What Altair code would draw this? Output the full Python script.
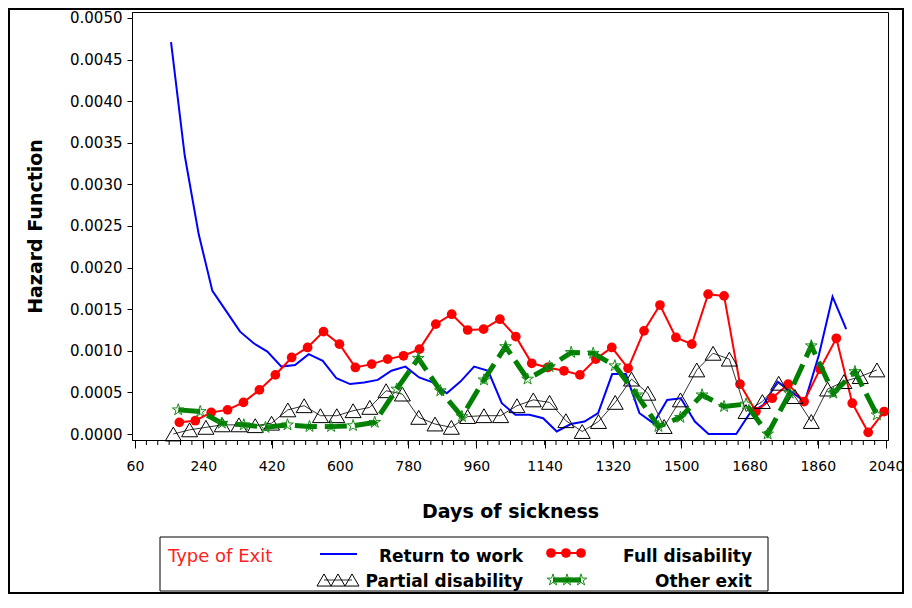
import altair as alt
import pandas as pd

# ---------------- data ----------------
rtw_days = [155, 191, 228, 264, 300, 337, 373, 409, 446, 482, 518, 555, 591, 627, 664, 700, 736, 773, 809, 845,
            882, 918, 954, 991, 1027, 1063, 1100, 1136, 1172, 1209, 1245, 1281, 1318, 1354, 1390, 1427, 1463, 1499,
            1536, 1572, 1608, 1645, 1681, 1717, 1754, 1790, 1826, 1863, 1899, 1935]
rtw_haz = [0.00471, 0.00335, 0.00240, 0.00172, 0.00148, 0.00123, 0.00109, 0.00099, 0.00081, 0.00083,
           0.00096, 0.00088, 0.00067, 0.00060, 0.00062, 0.00065, 0.00076, 0.00081, 0.00068, 0.00062,
           0.00049, 0.00063, 0.00081, 0.00076, 0.00037, 0.00023, 0.00023, 0.00019, 0.00003, 0.00012,
           0.00015, 0.00025, 0.00072, 0.00072, 0.00025, 0.00013, 0.00041, 0.00043, 0.00015, 0.0,
           0.0, 0.0, 0.00025, 0.00035, 0.00063, 0.00051, 0.00039, 0.00095, 0.00165, 0.00126]

full_days = [177, 219, 261, 304, 346, 388, 430, 473, 515, 557, 599, 641, 684, 726, 768, 810, 853, 895, 937, 979,
             1022, 1064, 1106, 1148, 1191, 1233, 1275, 1317, 1360, 1402, 1444, 1486, 1528, 1571, 1613, 1655, 1697,
             1740, 1782, 1824, 1866, 1909, 1951, 1993, 2035]
full_haz = [0.00014, 0.00016, 0.00026, 0.00029, 0.00038, 0.00053, 0.00071, 0.00092, 0.00104, 0.00123,
            0.00108, 0.00080, 0.00084, 0.00090, 0.00094, 0.00102, 0.00132, 0.00144, 0.00125, 0.00126,
            0.00138, 0.00117, 0.00085, 0.00080, 0.00076, 0.00071, 0.00090, 0.00104, 0.00079, 0.00124,
            0.00155, 0.00116, 0.00108, 0.00168, 0.00166, 0.00060, 0.00027, 0.00043, 0.00060, 0.00039,
            0.00078, 0.00115, 0.00037, 0.00002, 0.00027]

part_days = [161, 204, 247, 290, 334, 377, 420, 463, 506, 549, 592, 635, 679, 722, 765, 808, 851, 894, 937, 980,
             1024, 1067, 1110, 1153, 1196, 1239, 1282, 1326, 1369, 1412, 1455, 1498, 1541, 1584, 1627, 1671, 1714,
             1757, 1800, 1843, 1886, 1929, 1972, 2016]
part_haz = [0.0, 0.00005, 0.00008, 0.00011, 0.00011, 0.00010, 0.00013, 0.00029, 0.00034, 0.00022,
            0.00022, 0.00028, 0.00032, 0.00052, 0.00048, 0.00020, 0.00012, 0.00008, 0.00021, 0.00022,
            0.00022, 0.00034, 0.00041, 0.00038, 0.00016, 0.00003, 0.00015, 0.00038, 0.00066, 0.00049,
            0.00009, 0.00041, 0.00077, 0.00097, 0.00090, 0.00027, 0.00039, 0.00061, 0.00045, 0.00015,
            0.00054, 0.00063, 0.00069, 0.00077]

other_days = [174, 232, 289, 347, 404, 462, 520, 577, 635, 692, 750, 807, 865, 922, 980, 1037, 1095, 1153, 1210,
              1268, 1325, 1383, 1440, 1498, 1555, 1613, 1671, 1728, 1786, 1843, 1901, 1958, 2016]
other_haz = [0.00029, 0.00027, 0.00013, 0.00011, 0.00008, 0.00011, 0.00009, 0.00009, 0.00010, 0.00014,
             0.00054, 0.00091, 0.00052, 0.00021, 0.00065, 0.00105, 0.00066, 0.00081, 0.00098, 0.00097,
             0.00082, 0.00047, 0.00009, 0.00020, 0.00047, 0.00033, 0.00036, 0.0, 0.00049, 0.00106,
             0.00049, 0.00075, 0.00023]

x_ticks = [60, 240, 420, 600, 780, 960, 1140, 1320, 1500, 1680, 1860, 2040]
x_minor = [d for d in range(90, 2040, 30)]
y_ticks = [0.0, 0.0005, 0.0010, 0.0015, 0.0020, 0.0025, 0.0030, 0.0035, 0.0040, 0.0045, 0.0050]

legend_title = "Type of Exit"
legend_labels = ["Return to work", "Full disability", "Partial disability", "Other exit"]

# ---------------- chart ----------------
FONT = "DejaVu Sans"
W, H = 756, 428

rtw = pd.DataFrame({"day": rtw_days, "hazard": rtw_haz})
full = pd.DataFrame({"day": full_days, "hazard": full_haz})
part = pd.DataFrame({"day": part_days, "hazard": part_haz})
other = pd.DataFrame({"day": other_days, "hazard": other_haz})
minor = pd.DataFrame({"day": x_minor})
one = pd.DataFrame({"k": [0]})

xs = alt.Scale(domain=[52.1, 2045.2], nice=False, zero=False)
ys = alt.Scale(domain=[-0.0000721, 0.005072], nice=False, zero=False)

x_axis = alt.Axis(values=x_ticks, format="d", title="Days of sickness", grid=False, tickSize=8, labelPadding=11,
                  labelFlush=False, labelOverlap=False, labelFont=FONT, labelFontSize=14, labelColor="black",
                  domainColor="black", tickColor="black", titleFont=FONT, titleFontSize=19,
                  titleFontWeight="bold", titleColor="black", titleY=77, titleBaseline="alphabetic")
y_axis = alt.Axis(values=y_ticks, format=".4f", title="Hazard Function", grid=False, tickSize=5, labelPadding=5,
                  labelFlush=False, labelOverlap=False, labelFont=FONT, labelFontSize=15, labelColor="black",
                  domainColor="black", tickColor="black", titleFont=FONT, titleFontSize=19,
                  titleFontWeight="bold", titleColor="black", titleX=-91, titleBaseline="alphabetic")

X = alt.X("day:Q", scale=xs, axis=x_axis)
Y = alt.Y("hazard:Q", scale=ys, axis=y_axis)

STAR = ("M0,-1L0.225,-0.309L0.951,-0.309L0.363,0.118L0.588,0.809L0,0.382L-0.588,0.809"
        "L-0.363,0.118L-0.951,-0.309L-0.225,-0.309Z")

minor_layer = alt.Chart(minor).mark_rule(color="black", strokeWidth=1).encode(
    x=X, y=alt.value(H), y2=alt.value(H + 5))

blue = alt.Chart(rtw).mark_line(color="#0000FF", strokeWidth=2).encode(x=X, y=Y)
red_line = alt.Chart(full).mark_line(color="#FF0000", strokeWidth=2).encode(x=X, y=Y)
red_pts = alt.Chart(full).mark_point(shape="circle", filled=True, color="#FF0000", size=95, opacity=1).encode(x=X, y=Y)
blk_line = alt.Chart(part).mark_line(color="#333333", strokeWidth=1).encode(x=X, y=Y)
blk_pts = alt.Chart(part).mark_point(shape="triangle-up", filled=False, color="black", size=256,
                                     strokeWidth=1, opacity=1).encode(x=X, y=Y)
grn_line = alt.Chart(other).mark_line(color="#008000", strokeWidth=5, strokeDash=[22, 8]).encode(x=X, y=Y)
grn_pts = alt.Chart(other).mark_point(shape=STAR, filled=False, color="#1a8c1a", size=150,
                                      strokeWidth=1, opacity=1).encode(x=X, y=Y)


def at(mark_chart, x, y):
    return mark_chart.encode(x=alt.value(x), y=alt.value(y))


legend = []
# legend box and outer frame
legend.append(alt.Chart(one).mark_rect(fillOpacity=0, stroke="black", strokeWidth=1).encode(
    x=alt.value(28), x2=alt.value(636), y=alt.value(525), y2=alt.value(579)))
legend.append(alt.Chart(one).mark_rect(fillOpacity=0, stroke="black", strokeWidth=2).encode(
    x=alt.value(-123), x2=alt.value(771), y=alt.value(-3), y2=alt.value(581)))
# title
legend.append(at(alt.Chart(one).mark_text(text=legend_title, align="left", baseline="middle", font=FONT,
                                          fontSize=18, color="#FF2020"), 36, 545))
# return to work
legend.append(alt.Chart(one).mark_rule(color="#0000FF", strokeWidth=2).encode(
    x=alt.value(188), x2=alt.value(225), y=alt.value(542)))
# full disability
legend.append(alt.Chart(one).mark_rule(color="#FF0000", strokeWidth=2).encode(
    x=alt.value(419), x2=alt.value(449), y=alt.value(541)))
for px in (419, 434, 449):
    legend.append(at(alt.Chart(one).mark_point(shape="circle", filled=True, color="#FF0000", size=95,
                                               opacity=1), px, 541))
# partial disability
legend.append(alt.Chart(one).mark_rule(color="#333333", strokeWidth=1).encode(
    x=alt.value(192), x2=alt.value(220), y=alt.value(568)))
for px in (192, 206, 220):
    legend.append(at(alt.Chart(one).mark_point(shape="triangle-up", filled=False, color="black", size=196,
                                               strokeWidth=1, opacity=1), px, 568))
# other exit
legend.append(alt.Chart(one).mark_rule(color="#008000", strokeWidth=5).encode(
    x=alt.value(421), x2=alt.value(449), y=alt.value(568)))
for px in (421, 435, 449):
    legend.append(at(alt.Chart(one).mark_point(shape=STAR, filled=False, color="#1a8c1a", size=150,
                                               strokeWidth=1, opacity=1), px, 568))
# labels
for lab, px, py in zip(legend_labels, (391, 620, 391, 620), (545, 545, 570, 570)):
    legend.append(at(alt.Chart(one).mark_text(text=lab, align="right", baseline="middle", font=FONT,
                                              fontSize=17, fontWeight="bold", color="black"), px, py))

chart = alt.layer(minor_layer, blue, red_line, red_pts, blk_line, blk_pts, grn_line, grn_pts, *legend).properties(
    width=W, height=H,
    autosize=alt.AutoSizeParams(type="none"),
    padding={"left": 124, "top": 4, "right": 16, "bottom": 154},
    background="white",
).configure_view(stroke="black", strokeWidth=1)

chart.save("out.html", embed_options={"renderer": "svg", "actions": False})
